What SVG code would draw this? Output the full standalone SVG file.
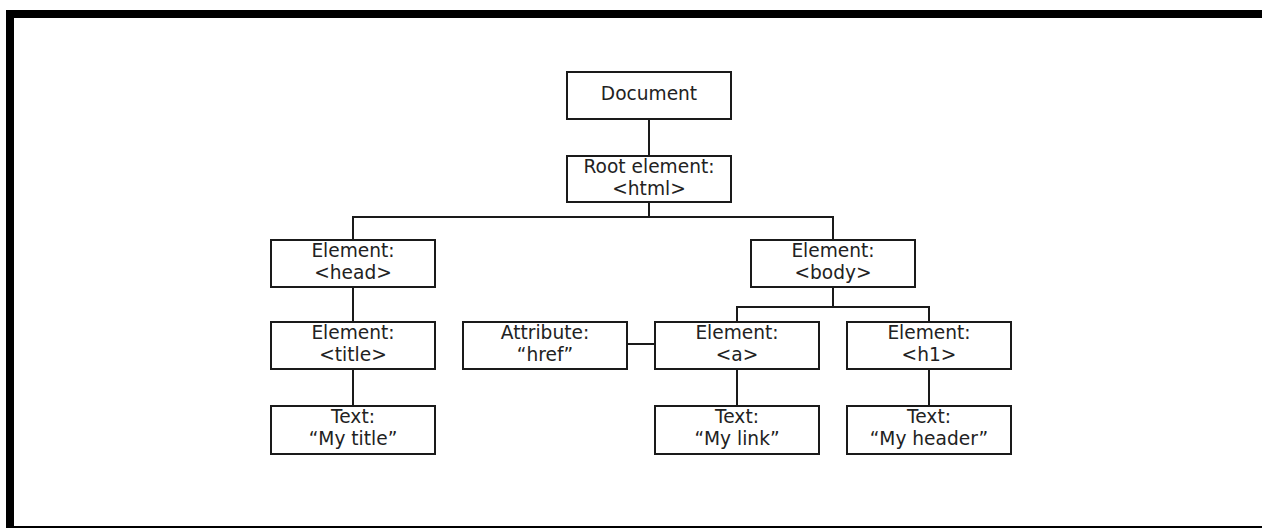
<svg xmlns="http://www.w3.org/2000/svg" width="1262" height="528" viewBox="0 0 1262 528">
<style>
.box{fill:#fff;stroke:#1a1a1a;stroke-width:2}
.lbl{font-family:"DejaVu Sans",Verdana,sans-serif;font-size:18.6px;fill:#222;text-anchor:middle}
.conn{stroke:#1a1a1a;stroke-width:2;fill:none}
</style>
<rect x="0" y="0" width="1262" height="528" fill="#fff"/>
<g id="frame">
<rect x="6" y="10" width="1256" height="8" fill="#000"/>
<rect x="6" y="10" width="8" height="518" fill="#000"/>
<rect x="14" y="526" width="1248" height="2" fill="#000"/>
</g>
<g id="connectors">
<path class="conn" d="M649 119V156"/>
<path class="conn" d="M649 202V217M353 240V217H833V240"/>
<path class="conn" d="M833 287V307M737 322V307H929V322"/>
<path class="conn" d="M353 287V322"/>
<path class="conn" d="M353 369V406"/>
<path class="conn" d="M737 369V406"/>
<path class="conn" d="M929 369V406"/>
<path class="conn" d="M627 344H655"/>
</g>
<g id="document">
<rect class="box" x="567" y="72" width="164" height="47"/>
<text class="lbl" x="649" y="100">Document</text>
</g>
<g id="root">
<rect class="box" x="567" y="156" width="164" height="46"/>
<text class="lbl" x="649" y="173">Root element:</text>
<text class="lbl" x="649" y="195">&lt;html&gt;</text>
</g>
<g id="head">
<rect class="box" x="271" y="240" width="164" height="47"/>
<text class="lbl" x="353" y="257">Element:</text>
<text class="lbl" x="353" y="279">&lt;head&gt;</text>
</g>
<g id="body">
<rect class="box" x="751" y="240" width="164" height="47"/>
<text class="lbl" x="833" y="257">Element:</text>
<text class="lbl" x="833" y="279">&lt;body&gt;</text>
</g>
<g id="title">
<rect class="box" x="271" y="322" width="164" height="47"/>
<text class="lbl" x="353" y="339">Element:</text>
<text class="lbl" x="353" y="361">&lt;title&gt;</text>
</g>
<g id="attribute">
<rect class="box" x="463" y="322" width="164" height="47"/>
<text class="lbl" x="545" y="339">Attribute:</text>
<text class="lbl" x="545" y="361">“href”</text>
</g>
<g id="a">
<rect class="box" x="655" y="322" width="164" height="47"/>
<text class="lbl" x="737" y="339">Element:</text>
<text class="lbl" x="737" y="361">&lt;a&gt;</text>
</g>
<g id="h1">
<rect class="box" x="847" y="322" width="164" height="47"/>
<text class="lbl" x="929" y="339">Element:</text>
<text class="lbl" x="929" y="361">&lt;h1&gt;</text>
</g>
<g id="text-title">
<rect class="box" x="271" y="406" width="164" height="48"/>
<text class="lbl" x="353" y="423">Text:</text>
<text class="lbl" x="353" y="445">“My title”</text>
</g>
<g id="text-link">
<rect class="box" x="655" y="406" width="164" height="48"/>
<text class="lbl" x="737" y="423">Text:</text>
<text class="lbl" x="737" y="445">“My link”</text>
</g>
<g id="text-header">
<rect class="box" x="847" y="406" width="164" height="48"/>
<text class="lbl" x="929" y="423">Text:</text>
<text class="lbl" x="929" y="445">“My header”</text>
</g>
</svg>
